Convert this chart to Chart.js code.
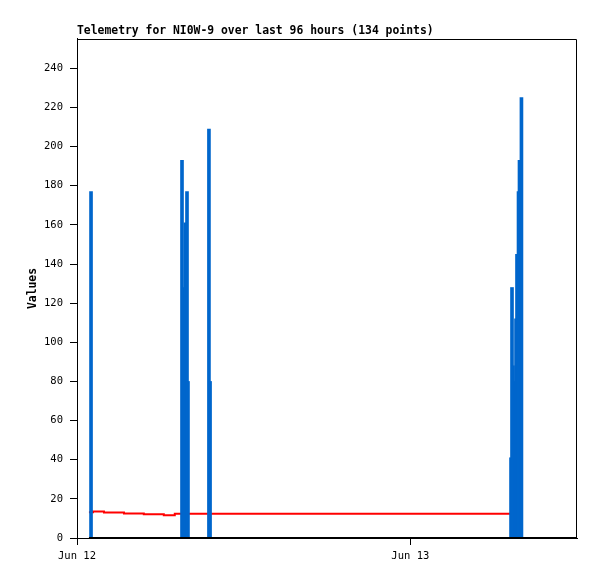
<!DOCTYPE html>
<html>
<head>
<meta charset="utf-8">
<script src="https://cdn.jsdelivr.net/npm/chart.js@4/dist/chart.umd.min.js"></script>
<style>
html,body{margin:0;padding:0;background:#fff;}
#wrap{width:597px;height:579px;}
</style>
</head>
<body>
<div id="wrap"><canvas id="c" width="597" height="579"></canvas></div>
<script>
// Hours since Jun 12 00:00
const titleText = 'Telemetry for NI0W-9 over last 96 hours (134 points)';
const yAxisTitle = 'Values';
const xTickHours = [0, 24];
const xTickLabels = ['Jun 12', 'Jun 13'];

const blueHours  = [1.01, 7.56, 7.67, 7.74, 7.81, 7.92, 7.99, 9.50, 9.58,
                    31.25, 31.32, 31.39, 31.46, 31.54, 31.61, 31.68, 31.79, 31.86, 32.00];
const blueValues = [177, 193, 128, 80, 161, 177, 80, 209, 80,
                    41, 128, 88, 48, 80, 112, 145, 177, 193, 225];

const redHours  = [0.86, 1.15, 1.94, 3.38, 4.81, 6.25, 7.04, 31.85];
const redValues = [13.2, 13.6, 13.0, 12.5, 12.1, 11.6, 12.4, 12.4];

const blackHours  = [0.86, 36];
const blackValues = [0, 0];

const monoFont = '"DejaVu Sans Mono", "Liberation Mono", monospace';

const toXY = (xs, ys) => xs.map((x, i) => ({x: x, y: ys[i]}));

const framePlugin = {
  id: 'frame',
  afterDraw(chart) {
    const a = chart.chartArea, ctx = chart.ctx;
    ctx.save();
    ctx.strokeStyle = '#000';
    ctx.lineWidth = 1;
    ctx.beginPath();
    ctx.moveTo(Math.round(a.left) + 0.5, Math.round(a.top) + 0.5);
    ctx.lineTo(Math.round(a.right) - 0.5, Math.round(a.top) + 0.5);
    ctx.lineTo(Math.round(a.right) - 0.5, Math.round(a.bottom) + 0.5);
    ctx.stroke();
    ctx.restore();
  }
};

new Chart(document.getElementById('c'), {
  type: 'bar',
  data: {
    datasets: [
      {
        type: 'line',
        data: toXY(blackHours, blackValues),
        borderColor: '#000000',
        borderWidth: 2,
        pointRadius: 0,
        clip: false,
        order: 0
      },
      {
        type: 'bar',
        data: toXY(blueHours, blueValues),
        backgroundColor: '#0066CC',
        borderWidth: 0,
        barThickness: 3,
        order: 1
      },
      {
        type: 'line',
        data: toXY(redHours, redValues),
        borderColor: '#FF0000',
        borderWidth: 2,
        pointRadius: 0,
        stepped: 'before',
        order: 2
      }
    ]
  },
  options: {
    responsive: false,
    animation: false,
    layout: { padding: { left: 0, right: 20, top: 0, bottom: 0 } },
    plugins: {
      legend: { display: false },
      tooltip: { enabled: false },
      title: {
        display: true,
        text: titleText,
        align: 'start',
        fullSize: false,
        color: '#000',
        font: { family: monoFont, size: 11.4, weight: 'bold' },
        padding: { top: 24, bottom: 1.3 }
      }
    },
    scales: {
      x: {
        type: 'linear',
        min: 0,
        max: 36,
        offset: false,
        afterFit(s) { s.height = 41; },
        ticks: {
          stepSize: 24,
          includeBounds: false,
          color: '#000',
          font: { family: monoFont, size: 10.5 },
          padding: 5,
          maxRotation: 0,
          autoSkip: false,
          callback: (v) => { const i = xTickHours.indexOf(v); return i >= 0 ? xTickLabels[i] : ''; }
        },
        grid: { display: true, offset: false, drawOnChartArea: false, drawTicks: true, tickLength: 7, color: '#000' },
        border: { display: true, color: '#000', width: 1 }
      },
      y: {
        type: 'linear',
        min: 0,
        max: 255,
        afterFit(s) { s.width = 77; },
        ticks: {
          stepSize: 20,
          includeBounds: false,
          color: '#000',
          font: { family: monoFont, size: 10.5 },
          padding: 7
        },
        grid: { display: true, drawOnChartArea: false, drawTicks: true, tickLength: 7, color: '#000' },
        border: { display: true, color: '#000', width: 1 },
        title: {
          display: true,
          text: yAxisTitle,
          color: '#000',
          font: { family: monoFont, size: 11.4, weight: 'bold' },
          padding: { top: 26, bottom: 0 }
        }
      }
    }
  },
  plugins: [framePlugin]
});
</script>
</body>
</html>
